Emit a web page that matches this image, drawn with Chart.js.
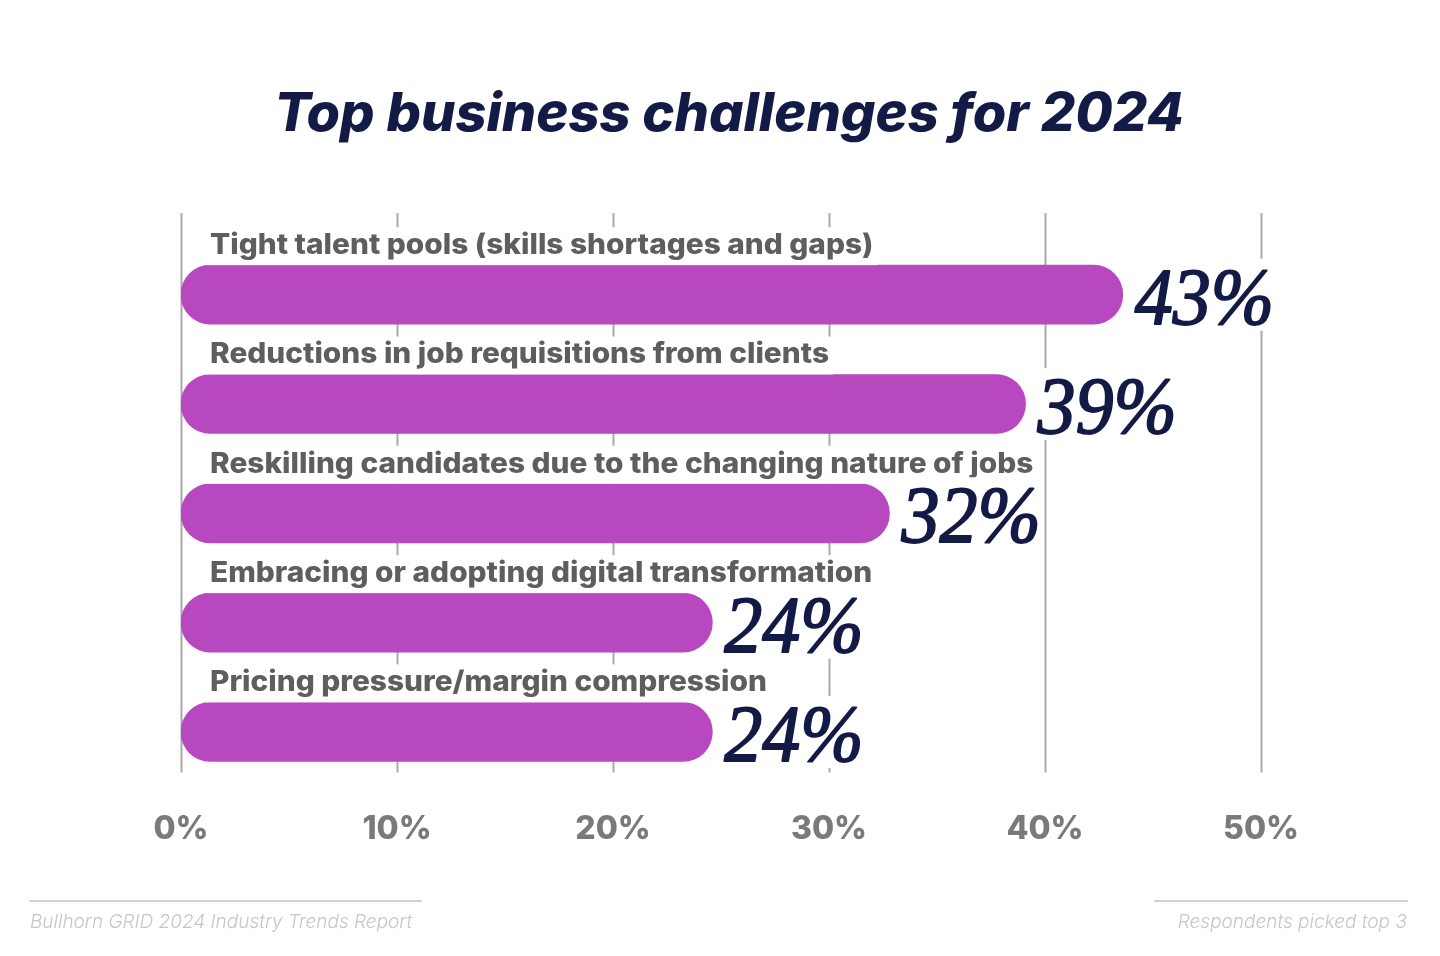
<!DOCTYPE html>
<html>
<head>
<meta charset="utf-8">
<script src="https://cdn.jsdelivr.net/npm/chart.js@4.4.1/dist/chart.umd.min.js"></script>
<style>
  html, body { margin: 0; padding: 0; background: #ffffff; }
  #wrap { width: 1440px; height: 956px; position: relative; }
  canvas { display: block; }
</style>
</head>
<body>
<div id="wrap"><canvas id="c" width="1440" height="956"></canvas></div>
<script>
// ---- data ----
const categories = [
  'Tight talent pools (skills shortages and gaps)',
  'Reductions in job requisitions from clients',
  'Reskilling candidates due to the changing nature of jobs',
  'Embracing or adopting digital transformation',
  'Pricing pressure/margin compression'
];
const values = [43.6, 39.1, 32.8, 24.6, 24.6];
const valueLabels = ['43%', '39%', '32%', '24%', '24%'];
const tickValues = [0, 10, 20, 30, 40, 50];
const titleText = 'Top business challenges for 2024';
const sourceText = 'Bullhorn GRID 2024 Industry Trends Report';
const noteText = 'Respondents picked top 3';

// ---- styles ----
const BAR = '#b848bf';
const NAVY = '#141a46';
const LABEL_GRAY = '#5e5e5e';
const TICK_GRAY = '#7a7a7a';
const GRID = '#a9a9a9';
const FOOT = '#c6c6c6';

function drawText(ctx, text, x, y, font, color, align, sx, stroke) {
  ctx.save();
  ctx.font = font;
  ctx.fillStyle = color;
  ctx.textAlign = align;
  ctx.textBaseline = 'alphabetic';
  ctx.translate(x, y);
  ctx.scale(sx, 1);
  ctx.fillText(text, 0, 0);
  if (stroke) {
    ctx.strokeStyle = color;
    ctx.lineWidth = stroke;
    ctx.lineJoin = 'round';
    ctx.strokeText(text, 0, 0);
  }
  ctx.restore();
}
function textWidth(ctx, text, font, sx) {
  ctx.save(); ctx.font = font;
  const w = ctx.measureText(text).width * sx;
  ctx.restore();
  return w;
}

const CAT_FONT = '800 28px Inter';
const CAT_SX = 1.065;
const VAL_FONT = 'italic 400 80px "Liberation Serif"';
const VAL_SX = 0.95;
const TITLE_FONT = 'italic 800 53px Inter';
const TITLE_SX = 1.022;
const FOOT_FONT = 'italic 300 19px Inter';
const FOOT_SX = 1.0;

const decor = {
  id: 'decor',
  beforeDatasetsDraw(chart) {
    const ctx = chart.ctx, xs = chart.scales.x, a = chart.chartArea;
    ctx.save();
    ctx.strokeStyle = GRID;
    ctx.lineWidth = 2;
    xs.ticks.forEach(t => {
      const x = Math.round(xs.getPixelForValue(t.value)) + 0.5;
      ctx.beginPath();
      ctx.moveTo(x, a.top - 27);
      ctx.lineTo(x, a.bottom - 14);
      ctx.stroke();
    });
    ctx.restore();
  },
  afterDatasetsDraw(chart) {
    const ctx = chart.ctx, a = chart.chartArea;
    const meta = chart.getDatasetMeta(0);
    meta.data.forEach((bar, i) => {
      const half = bar.height / 2;
      // category label
      const cx = a.left + 29;
      const cy = bar.y - half - 11;
      const cw = textWidth(ctx, categories[i], CAT_FONT, CAT_SX);
      ctx.fillStyle = '#ffffff';
      ctx.fillRect(cx - 4, cy - 27, cw + 8, 27 + 11);
      drawText(ctx, categories[i], cx, cy, CAT_FONT, LABEL_GRAY, 'left', CAT_SX);
      // value label
      const vx = bar.x + 12;
      const vw = textWidth(ctx, valueLabels[i], VAL_FONT, VAL_SX);
      ctx.fillStyle = '#ffffff';
      ctx.fillRect(bar.x + 3, bar.y - 36, vw + 11, 72);
      drawText(ctx, valueLabels[i], vx, bar.y + 29, VAL_FONT, NAVY, 'left', VAL_SX, 1.8);
    });
  },
  afterDraw(chart) {
    const ctx = chart.ctx;
    drawText(ctx, titleText, 729, 131, TITLE_FONT, NAVY, 'center', TITLE_SX);
    ctx.save();
    ctx.strokeStyle = '#d3d3d3';
    ctx.lineWidth = 2;
    ctx.beginPath(); ctx.moveTo(29, 901); ctx.lineTo(422, 901); ctx.stroke();
    ctx.beginPath(); ctx.moveTo(1154, 901); ctx.lineTo(1408, 901); ctx.stroke();
    ctx.restore();
    drawText(ctx, sourceText, 30, 928, FOOT_FONT, FOOT, 'left', FOOT_SX);
    drawText(ctx, noteText, 1407, 928, FOOT_FONT, FOOT, 'right', FOOT_SX);
  }
};

new Chart(document.getElementById('c'), {
  type: 'bar',
  data: {
    labels: categories,
    datasets: [{
      data: values,
      backgroundColor: BAR,
      borderRadius: 30,
      borderSkipped: false,
      barThickness: 59
    }]
  },
  options: {
    indexAxis: 'y',
    responsive: false,
    animation: false,
    devicePixelRatio: 1,
    layout: { padding: { left: 181, right: 179, top: 240, bottom: 91 } },
    plugins: { legend: { display: false }, title: { display: false }, tooltip: { enabled: false } },
    scales: {
      x: {
        min: 0, max: 50,
        afterBuildTicks(scale) { scale.ticks = tickValues.map(v => ({ value: v })); },
        ticks: {
          callback: v => v + '%',
          font: { family: 'Inter', weight: '800', size: 32 },
          color: TICK_GRAY,
          padding: 16,
          maxRotation: 0
        },
        grid: { display: false },
        border: { display: false }
      },
      y: { display: false }
    }
  },
  plugins: [decor]
});
</script>
</body>
</html>
